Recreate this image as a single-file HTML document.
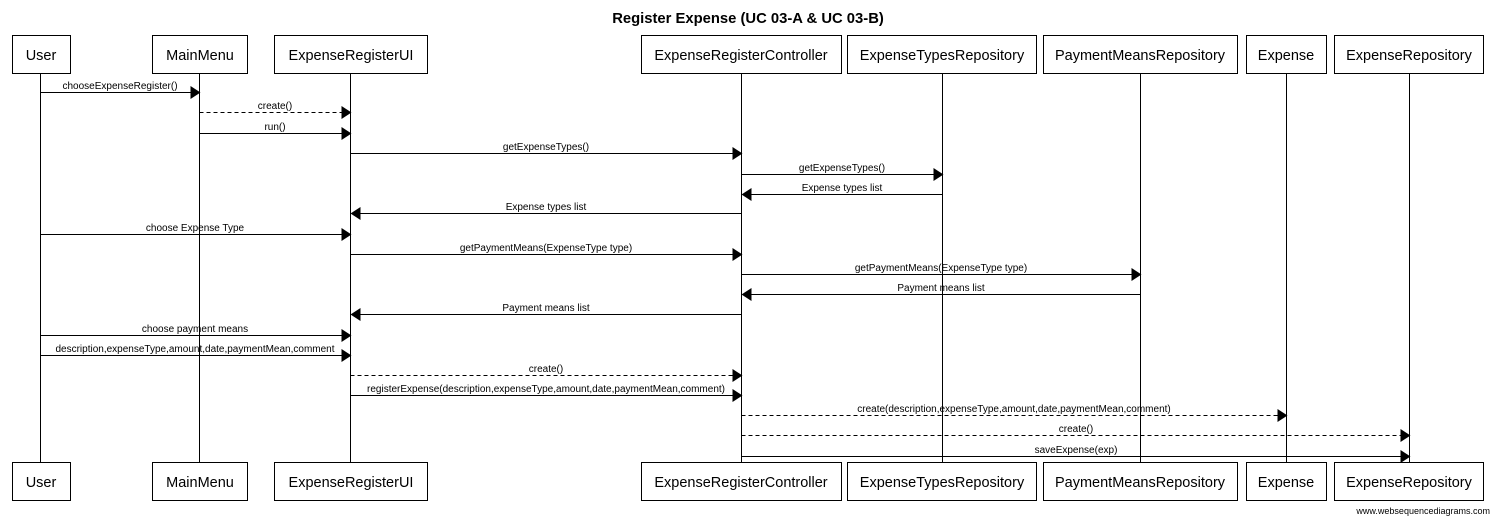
<!DOCTYPE html>
<html><head><meta charset="utf-8"><style>
body{margin:0;background:#fff}
svg{display:block}
text{font-family:"Liberation Sans",Arial,sans-serif}
.b{fill:#fff;stroke:#000;stroke-width:1}
.n{font-size:14.5px}
.m text{font-size:10px;text-anchor:middle}
</style></head><body>
<svg width="1495" height="518" viewBox="0 0 1495 518" xmlns="http://www.w3.org/2000/svg">
<text x="748" y="23" text-anchor="middle" font-size="14.8" font-weight="bold">Register Expense (UC 03-A &amp; UC 03-B)</text>
<g stroke="#000" stroke-width="1">
<line x1="40.5" y1="74" x2="40.5" y2="462"/>
<line x1="199.5" y1="74" x2="199.5" y2="462"/>
<line x1="350.5" y1="74" x2="350.5" y2="462"/>
<line x1="741.5" y1="74" x2="741.5" y2="462"/>
<line x1="942.5" y1="74" x2="942.5" y2="462"/>
<line x1="1140.5" y1="74" x2="1140.5" y2="462"/>
<line x1="1286.5" y1="74" x2="1286.5" y2="462"/>
<line x1="1409.5" y1="74" x2="1409.5" y2="462"/>
</g>
<g>
<rect class="b" x="12.5" y="35.5" width="58" height="38"/>
<rect class="b" x="152.5" y="35.5" width="95" height="38"/>
<rect class="b" x="274.5" y="35.5" width="153" height="38"/>
<rect class="b" x="641.5" y="35.5" width="200" height="38"/>
<rect class="b" x="847.5" y="35.5" width="189" height="38"/>
<rect class="b" x="1043.5" y="35.5" width="194" height="38"/>
<rect class="b" x="1246.5" y="35.5" width="80" height="38"/>
<rect class="b" x="1334.5" y="35.5" width="149" height="38"/>
<rect class="b" x="12.5" y="462.5" width="58" height="38"/>
<rect class="b" x="152.5" y="462.5" width="95" height="38"/>
<rect class="b" x="274.5" y="462.5" width="153" height="38"/>
<rect class="b" x="641.5" y="462.5" width="200" height="38"/>
<rect class="b" x="847.5" y="462.5" width="189" height="38"/>
<rect class="b" x="1043.5" y="462.5" width="194" height="38"/>
<rect class="b" x="1246.5" y="462.5" width="80" height="38"/>
<rect class="b" x="1334.5" y="462.5" width="149" height="38"/>
</g>
<g class="n" text-anchor="middle">
<text x="41" y="60">User</text><text x="200" y="60">MainMenu</text><text x="351" y="60">ExpenseRegisterUI</text><text x="741" y="60">ExpenseRegisterController</text><text x="942" y="60">ExpenseTypesRepository</text><text x="1140" y="60">PaymentMeansRepository</text><text x="1286" y="60">Expense</text><text x="1409" y="60">ExpenseRepository</text>
<text x="41" y="487">User</text><text x="200" y="487">MainMenu</text><text x="351" y="487">ExpenseRegisterUI</text><text x="741" y="487">ExpenseRegisterController</text><text x="942" y="487">ExpenseTypesRepository</text><text x="1140" y="487">PaymentMeansRepository</text><text x="1286" y="487">Expense</text><text x="1409" y="487">ExpenseRepository</text>
</g>
<g class="m" stroke="#000" stroke-width="1">
<line x1="40.5" y1="92.5" x2="190.5" y2="92.5"/><polygon points="200.5,92.5 190.5,86 190.5,99" fill="#000" stroke="none"/><text x="120" y="89" stroke="none">chooseExpenseRegister()</text>
<line x1="199.5" y1="112.5" x2="341.5" y2="112.5" stroke-dasharray="4,3"/><polygon points="351.5,112.5 341.5,106 341.5,119" fill="#000" stroke="none"/><text x="275" y="109" stroke="none">create()</text>
<line x1="199.5" y1="133.5" x2="341.5" y2="133.5"/><polygon points="351.5,133.5 341.5,127 341.5,140" fill="#000" stroke="none"/><text x="275" y="130" stroke="none">run()</text>
<line x1="350.5" y1="153.5" x2="732.5" y2="153.5"/><polygon points="742.5,153.5 732.5,147 732.5,160" fill="#000" stroke="none"/><text x="546" y="150" stroke="none">getExpenseTypes()</text>
<line x1="741.5" y1="174.5" x2="933.5" y2="174.5"/><polygon points="943.5,174.5 933.5,168 933.5,181" fill="#000" stroke="none"/><text x="842" y="171" stroke="none">getExpenseTypes()</text>
<line x1="942.5" y1="194.5" x2="751.5" y2="194.5"/><polygon points="741.5,194.5 751.5,188 751.5,201" fill="#000" stroke="none"/><text x="842" y="191" stroke="none">Expense types list</text>
<line x1="741.5" y1="213.5" x2="360.5" y2="213.5"/><polygon points="350.5,213.5 360.5,207 360.5,220" fill="#000" stroke="none"/><text x="546" y="210" stroke="none">Expense types list</text>
<line x1="40.5" y1="234.5" x2="341.5" y2="234.5"/><polygon points="351.5,234.5 341.5,228 341.5,241" fill="#000" stroke="none"/><text x="195" y="231" stroke="none">choose Expense Type</text>
<line x1="350.5" y1="254.5" x2="732.5" y2="254.5"/><polygon points="742.5,254.5 732.5,248 732.5,261" fill="#000" stroke="none"/><text x="546" y="251" stroke="none">getPaymentMeans(ExpenseType type)</text>
<line x1="741.5" y1="274.5" x2="1131.5" y2="274.5"/><polygon points="1141.5,274.5 1131.5,268 1131.5,281" fill="#000" stroke="none"/><text x="941" y="271" stroke="none">getPaymentMeans(ExpenseType type)</text>
<line x1="1140.5" y1="294.5" x2="751.5" y2="294.5"/><polygon points="741.5,294.5 751.5,288 751.5,301" fill="#000" stroke="none"/><text x="941" y="291" stroke="none">Payment means list</text>
<line x1="741.5" y1="314.5" x2="360.5" y2="314.5"/><polygon points="350.5,314.5 360.5,308 360.5,321" fill="#000" stroke="none"/><text x="546" y="311" stroke="none">Payment means list</text>
<line x1="40.5" y1="335.5" x2="341.5" y2="335.5"/><polygon points="351.5,335.5 341.5,329 341.5,342" fill="#000" stroke="none"/><text x="195" y="332" stroke="none">choose payment means</text>
<line x1="40.5" y1="355.5" x2="341.5" y2="355.5"/><polygon points="351.5,355.5 341.5,349 341.5,362" fill="#000" stroke="none"/><text x="195" y="352" stroke="none">description,expenseType,amount,date,paymentMean,comment</text>
<line x1="350.5" y1="375.5" x2="732.5" y2="375.5" stroke-dasharray="4,3"/><polygon points="742.5,375.5 732.5,369 732.5,382" fill="#000" stroke="none"/><text x="546" y="372" stroke="none">create()</text>
<line x1="350.5" y1="395.5" x2="732.5" y2="395.5"/><polygon points="742.5,395.5 732.5,389 732.5,402" fill="#000" stroke="none"/><text x="546" y="392" stroke="none">registerExpense(description,expenseType,amount,date,paymentMean,comment)</text>
<line x1="741.5" y1="415.5" x2="1277.5" y2="415.5" stroke-dasharray="4,3"/><polygon points="1287.5,415.5 1277.5,409 1277.5,422" fill="#000" stroke="none"/><text x="1014" y="412" stroke="none">create(description,expenseType,amount,date,paymentMean,comment)</text>
<line x1="741.5" y1="435.5" x2="1400.5" y2="435.5" stroke-dasharray="4,3"/><polygon points="1410.5,435.5 1400.5,429 1400.5,442" fill="#000" stroke="none"/><text x="1076" y="432" stroke="none">create()</text>
<line x1="741.5" y1="456.5" x2="1400.5" y2="456.5"/><polygon points="1410.5,456.5 1400.5,450 1400.5,463" fill="#000" stroke="none"/><text x="1076" y="453" stroke="none">saveExpense(exp)</text>
</g>
<text x="1490" y="514" text-anchor="end" font-size="9">www.websequencediagrams.com</text>
</svg>
</body></html>
